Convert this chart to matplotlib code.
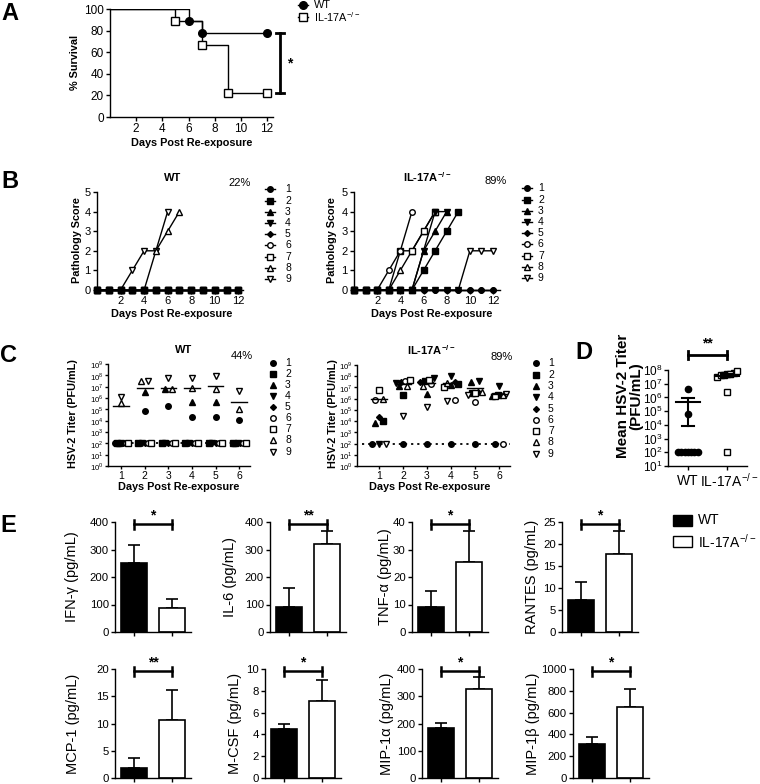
import numpy as np
import matplotlib
matplotlib.use("Agg")
import matplotlib.pyplot as plt

plt.rcParams["font.family"] = ["Liberation Sans", "DejaVu Sans"]
plt.rcParams["mathtext.fontset"] = "custom"
plt.rcParams["mathtext.rm"] = "Liberation Sans"
plt.rcParams["mathtext.bf"] = "Liberation Sans:bold"
plt.rcParams["axes.linewidth"] = 1.0

W, H = 760, 784
KO = r"IL-17A$^{-/-}$"
KO_BOLD = r"IL-17A$^{\mathbf{-/-}}$"

# A: % survival after re-exposure
surv_days_wt = [0, 6, 7, 12]
surv_wt = [100, 88.9, 77.8, 77.8]
surv_days_ko = [0, 5, 7, 9, 12]
surv_ko = [100, 88.9, 66.7, 22.2, 22.2]

# B: pathology score per mouse from day 0 (list stops when the mouse died)
path_wt = [
    [0, 0, 0, 0, 0, 0, 0, 0, 0, 0, 0, 0, 0],
    [0, 0, 0, 0, 0, 0, 0, 0, 0, 0, 0, 0, 0],
    [0, 0, 0, 0, 0, 0, 0, 0, 0, 0, 0, 0, 0],
    [0, 0, 0, 0, 0, 0, 0, 0, 0, 0, 0, 0, 0],
    [0, 0, 0, 0, 0, 0, 0, 0, 0, 0, 0, 0, 0],
    [0, 0, 0, 0, 0, 0, 0, 0, 0, 0, 0, 0, 0],
    [0, 0, 0, 0, 0, 0, 0, 0, 0, 0, 0, 0, 0],
    [0, 0, 0, 0, 0, 2, 3, 4],
    [0, 0, 0, 1, 2, 2, 4],
]
path_ko = [
    [0, 0, 0, 0, 0, 0, 0, 0, 0, 0, 0, 0, 0],
    [0, 0, 0, 0, 0, 0, 1, 2, 3, 4],
    [0, 0, 0, 0, 0, 0, 2, 3, 4],
    [0, 0, 0, 0, 0, 0, 2, 4, 4],
    [0, 0, 0, 0, 0, 0, 0, 0, 0, 0, 0, 0, 0],
    [0, 0, 0, 1, 2, 4],
    [0, 0, 0, 0, 2, 2, 3, 4],
    [0, 0, 0, 0, 1, 2, 3, 4],
    [0, 0, 0, 0, 0, 0, 0, 0, 0, 0, 2, 2, 2],
]
path_pct = ["22%", "89%"]

# C: log10 HSV-2 titer (PFU/mL), rows = mouse 1-9, columns = day 1-6
titer_days = [1, 2, 3, 4, 5, 6]
titer_wt = np.array([
    [2.0, 4.86, 5.26, 4.34, 4.30, 4.03],
    [2.0, 2.0, 2.0, 2.0, 2.0, 2.0],
    [2.0, 6.57, 6.83, 5.65, 5.65, 2.0],
    [2.0, 2.0, 2.0, 2.0, 2.0, 2.0],
    [2.0, 2.0, 2.0, 2.0, 2.0, 2.0],
    [2.0, 2.0, 2.0, 2.0, 2.0, 2.0],
    [2.0, 2.0, 2.0, 2.0, 2.0, 2.0],
    [5.55, 7.48, 6.83, 6.90, 6.77, 5.03],
    [6.10, 7.48, 7.75, 7.75, 7.94, 6.60],
])
titer_ko = np.array([
    [2.0, 2.0, 2.0, 2.0, 2.0, 2.0],
    [4.0, 6.35, 7.6, 7.3, 6.5, 6.3],
    [3.8, 7.1, 6.45, 7.2, 7.5, 6.2],
    [2.0, 7.4, 7.8, 8.0, 7.6, 7.1],
    [4.4, 7.5, 7.5, 7.5, 6.6, 6.3],
    [5.9, 7.6, 7.3, 5.9, 5.7, 2.0],
    [6.8, 7.7, 7.7, 7.0, 6.5, 6.2],
    [6.0, 7.1, 7.1, 7.4, 6.6, 6.3],
    [2.0, 4.5, 5.3, 5.8, 6.3, 6.4],
])
titer_pct = ["44%", "89%"]

# D: mean log10 titer per mouse
mean_titer_wt = [6.64, 4.8, 2.0, 2.0, 2.0, 2.0, 2.0, 2.0, 2.0]
mean_titer_ko = [7.5, 7.6, 7.7, 7.8, 7.9, 7.7, 7.6, 6.42, 2.0]

# E: cytokines (pg/mL), mean and upper error
cytokines = ["IFN-γ", "IL-6", "TNF-α", "RANTES", "MCP-1", "M-CSF", "MIP-1α", "MIP-1β"]
cyt_wt = [252, 90, 9.2, 7.2, 1.9, 4.5, 183, 310]
cyt_wt_err = [63, 69, 5.6, 4.2, 1.8, 0.45, 20, 65]
cyt_ko = [87, 321, 25.6, 17.7, 10.7, 7.1, 325, 650]
cyt_ko_err = [33, 45, 11, 5.3, 5.4, 1.9, 45, 170]
cyt_ymax = [400, 400, 40, 25, 20, 10, 400, 1000]
cyt_ystep = [100, 100, 10, 5, 5, 2, 100, 200]
cyt_stars = ["*", "**", "*", "*", "**", "*", "*", "*"]

MARKERS = ["o", "s", "^", "v", "D", "o", "s", "^", "v"]
FILLED = [True, True, True, True, True, False, False, False, False]

fig = plt.figure(figsize=(W / 100, H / 100), dpi=100)


def add_ax(x0, y0, x1, y1):
    ax = fig.add_axes([x0 / W, 1 - y1 / H, (x1 - x0) / W, (y1 - y0) / H])
    ax.patch.set_visible(False)
    ax.spines[["top", "right"]].set_visible(False)
    ax.tick_params(direction="out", length=3, width=1, pad=1.5, labelsize=8)
    return ax


def mstyle(i, ms):
    return dict(marker=MARKERS[i], color="k", mec="k", mew=1,
                mfc="k" if FILLED[i] else "white",
                ms=ms * 0.75 if MARKERS[i] == "D" else ms)


def spread(vals, tol, step, maxw):
    # beeswarm-like horizontal offsets for points with close values
    order = np.argsort(vals, kind="stable")
    groups = []
    for i in order:
        if groups and vals[i] - vals[groups[-1][0]] < tol:
            groups[-1].append(i)
        else:
            groups.append([i])
    offs = np.zeros(len(vals))
    for g in groups:
        n = len(g)
        if n > 1:
            st = min(step, maxw / (n - 1))
            for k, i in enumerate(g):
                offs[i] = (k - (n - 1) / 2) * st
    return offs


# ---------------- A ----------------
axA = add_ax(110, 9, 273, 117)
axA.step(surv_days_wt, surv_wt, where="post", color="k", lw=1)
axA.step(surv_days_ko, surv_ko, where="post", color="k", lw=1)
axA.plot(surv_days_wt[1:], surv_wt[1:], "o", color="k", ms=5.5, clip_on=False, zorder=3)
axA.plot(surv_days_ko[1:], surv_ko[1:], "s", mfc="white", mec="k", mew=1, ms=5.5,
         clip_on=False, zorder=3)
axA.set_xlim(0, 12.45)
axA.set_ylim(0, 100)
axA.set_xticks(range(2, 13, 2))
axA.set_yticks(range(0, 101, 20))
axA.tick_params(labelsize=8.5)
xb = 13.0
axA.plot([xb, xb], [surv_ko[-1], surv_wt[-1]], color="k", lw=2, clip_on=False)
for yv in (surv_ko[-1], surv_wt[-1]):
    axA.plot([xb - 0.3, xb + 0.3], [yv, yv], color="k", lw=2, clip_on=False)
axA.text(13.75, 50, "*", ha="center", va="center", fontsize=10, fontweight="bold")

# ---------------- B ----------------
for paths, box, xmax in ((path_wt, (97, 192, 243, 290), 12.4),
                         (path_ko, (354, 192, 500, 290), 12.6)):
    ax = add_ax(*box)
    for i in reversed(range(9)):
        y = paths[i]
        ax.plot(range(len(y)), y, lw=1, clip_on=False,
                zorder=5 if i == 1 else (4 if i == 0 else 3), **mstyle(i, 4))
    ax.set_xlim(0, xmax)
    ax.set_ylim(0, 5)
    ax.set_xticks(range(2, 13, 2))
    ax.set_yticks(range(0, 6))

# ---------------- C ----------------
for titers, box, xlim, lod_x in ((titer_wt, (108, 364, 250, 466), (0.44, 6.46), (0.66, 6.5)),
                                 (titer_ko, (357, 365, 510, 466), (0.08, 6.46), (0.3, 6.45))):
    ax = add_ax(*box)
    ax.set_yscale("log")
    ax.plot(lod_x, [10 ** 2, 10 ** 2], color="k", lw=1.3, ls=(0, (1.2, 2.2)), zorder=1)
    for d, day in enumerate(titer_days):
        vals = titers[:, d]
        offs = spread(vals, 0.3, 0.3, 0.55)
        for i in range(9):
            ax.plot(day + offs[i], 10 ** vals[i], ls="none", zorder=3, **mstyle(i, 4))
        m = np.mean(10 ** vals)
        ax.plot([day - 0.33, day + 0.33], [m, m], color="k", lw=1, zorder=4)
    ax.set_xlim(*xlim)
    ax.set_ylim(1, 1e9)
    ax.set_xticks(titer_days)
    ax.set_yticks([10 ** k for k in range(10)])
    ax.set_yticklabels([rf"$10^{{{k}}}$" for k in range(10)])
    ax.yaxis.set_minor_locator(plt.NullLocator())
    ax.tick_params(axis="y", labelsize=5.6, pad=0.8, length=2.5)
    ax.tick_params(axis="x", labelsize=7.5, pad=1, length=2.5)

# ---------------- D ----------------
axD = add_ax(668, 370, 747, 466)
axD.set_yscale("log")
for x, vals, mk in ((0, np.array(mean_titer_wt), "o"), (1, np.array(mean_titer_ko), "s")):
    offs = spread(vals, 0.5, 0.3, 0.5)
    face = "k" if mk == "o" else "white"
    axD.plot(x + offs, 10 ** vals, ls="none", marker=mk, mfc=face, mec="k", mew=1, ms=4.5,
             zorder=3, clip_on=False)
    lin = 10 ** vals
    m = lin.mean()
    sem = lin.std(ddof=1) / np.sqrt(len(lin))
    axD.plot([x - 0.3, x + 0.3], [m, m], color="k", lw=1.5, zorder=4)
    axD.plot([x, x], [m - sem, m + sem], color="k", lw=1.5, zorder=4)
    for yv in (m - sem, m + sem):
        axD.plot([x - 0.15, x + 0.15], [yv, yv], color="k", lw=1.5, zorder=4)
axD.set_xlim(-0.51, 1.51)
axD.set_ylim(10, 1e8)
axD.set_xticks([0, 1])
axD.set_xticklabels([])
axD.set_yticks([10 ** k for k in range(1, 9)])
axD.set_yticklabels([rf"$10^{{{k}}}$" for k in range(1, 9)])
axD.yaxis.set_minor_locator(plt.NullLocator())
axD.tick_params(axis="y", labelsize=8.5, pad=1)
yb = 10 ** 9.1
axD.plot([0, 1], [yb, yb], color="k", lw=2, clip_on=False)
for x in (0, 1):
    axD.plot([x, x], [10 ** 8.8, 10 ** 9.4], color="k", lw=2, clip_on=False)
axD.text(0.5, 10 ** 9.4, "**", ha="center", va="bottom", fontsize=10, fontweight="bold")

# ---------------- E ----------------
e_left = [115, 270, 412, 562, 115, 265, 422, 573]
e_rows = [(522, 632), (669, 778)]
for k in range(8):
    y0, y1 = e_rows[k // 4]
    ax = add_ax(e_left[k], y0, e_left[k] + 76, y1)
    ax.bar([0, 1], [cyt_wt[k], cyt_ko[k]], width=0.7, color=["k", "white"],
           edgecolor="k", lw=1.2, zorder=2)
    ax.errorbar([0, 1], [cyt_wt[k], cyt_ko[k]], yerr=[[0, 0], [cyt_wt_err[k], cyt_ko_err[k]]],
                fmt="none", ecolor="k", elinewidth=1.2, capsize=4.5, capthick=1.2, zorder=1)
    ax.set_xlim(-0.52, 1.52)
    ax.set_ylim(0, cyt_ymax[k])
    ax.set_xticks([0, 1])
    ax.set_xticklabels([])
    ax.set_yticks(np.arange(0, cyt_ymax[k] + 1e-9, cyt_ystep[k]))
    ax.tick_params(labelsize=8.2)
    yb = cyt_ymax[k] * 0.98
    cap = cyt_ymax[k] * 0.04
    ax.plot([0, 1], [yb, yb], color="k", lw=1.8, clip_on=False)
    for x in (0, 1):
        ax.plot([x, x], [yb - cap, yb + cap], color="k", lw=1.8, clip_on=False)
    ax.text(0.5, yb + cap * 0.3, cyt_stars[k], ha="center", va="bottom",
            fontsize=10, fontweight="bold")

# ---------------- text and keys in pixel coordinates ----------------
ov = fig.add_axes([0, 0, 1, 1])
ov.set_xlim(0, W)
ov.set_ylim(H, 0)
ov.axis("off")


def txt(x, y, s, **kw):
    kw.setdefault("ha", "center")
    kw.setdefault("va", "center")
    ov.text(x, y, s, **kw)


for lab, (x, y) in zip("ABCDE", [(10, 13.5), (9.5, 181), (8.5, 355), (583.5, 352.5), (8.5, 525)]):
    txt(x, y, lab, fontsize=17, fontweight="bold")

bold = dict(fontsize=7.8, fontweight="bold")
txt(75, 62, "% Survival", rotation=90, **bold)
txt(192, 143, "Days Post Re-exposure", **bold)
ov.plot([298, 308], [5, 5], color="k", lw=1)
ov.plot([303], [5], "o", color="k", ms=5.5)
ov.plot([298, 308], [17, 17], color="k", lw=1)
ov.plot([303], [17], "s", mfc="white", mec="k", ms=5.5)
txt(314, 5, "WT", ha="left", fontsize=7.8)
txt(314, 17.5, KO, ha="left", fontsize=7.8)

# B texts
txt(77, 240, "Pathology Score", rotation=90, **bold)
txt(332, 240, "Pathology Score", rotation=90, **bold)
txt(172, 314, "Days Post Re-exposure", **bold)
txt(432, 314, "Days Post Re-exposure", **bold)
txt(173, 178, "WT", fontsize=8, fontweight="bold")
txt(427, 177, KO_BOLD, fontsize=8, fontweight="bold")
txt(240, 183, path_pct[0], fontsize=8)
txt(496, 181, path_pct[1], fontsize=8)
for mx, tx, y0 in ((270, 285, 189.3), (527, 538, 188.3)):
    for i in range(9):
        y = y0 + 11.2 * i
        ov.plot([mx - 5, mx + 5], [y, y], color="k", lw=1)
        ov.plot([mx], [y], **mstyle(i, 4))
        txt(tx, y, str(i + 1), ha="left", fontsize=7.5)

# C texts
txt(73, 414, "HSV-2 Titer (PFU/mL)", rotation=90, **bold)
txt(333, 414, "HSV-2 Titer (PFU/mL)", rotation=90, **bold)
txt(179, 487, "Days Post Re-exposure", **bold)
txt(430, 487, "Days Post Re-exposure", **bold)
txt(184, 350, "WT", fontsize=8, fontweight="bold")
txt(431, 350, KO_BOLD, fontsize=8, fontweight="bold")
txt(242, 356, titer_pct[0], fontsize=8)
txt(502, 357, titer_pct[1], fontsize=8)
for mx, tx, y0, dy in ((273, 285, 362.7, 11.1), (536, 548, 363.3, 11.3)):
    for i in range(9):
        y = y0 + dy * i
        ov.plot([mx], [y], ls="none", **mstyle(i, 4))
        txt(tx, y, str(i + 1), ha="left", fontsize=7.5)

# D texts
txt(630, 396, "Mean HSV-2 Titer\n(PFU/mL)", rotation=90, fontsize=11,
    fontweight="bold", linespacing=0.95)
txt(688, 481, "WT", fontsize=10)
txt(729, 481, KO, fontsize=10)

# E texts
e_lab_x = [72, 230, 385, 532, 73, 235, 387, 533]
for k in range(8):
    y0, y1 = e_rows[k // 4]
    txt(e_lab_x[k], (y0 + y1) / 2, cytokines[k] + " (pg/mL)", rotation=90, fontsize=10.5)
ov.add_patch(plt.Rectangle((673, 515), 19, 11, facecolor="k", edgecolor="k", lw=1))
ov.add_patch(plt.Rectangle((673, 536), 19, 11, facecolor="white", edgecolor="k", lw=1))
txt(698, 520.5, "WT", ha="left", fontsize=10)
txt(698, 541.5, KO, ha="left", fontsize=10)

fig.savefig("out.png", dpi=100)
